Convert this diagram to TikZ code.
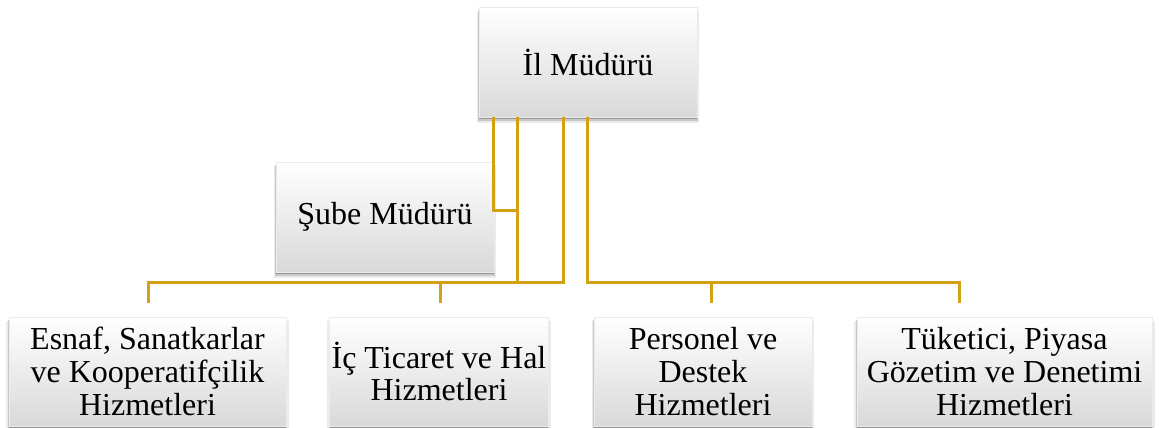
\documentclass[tikz,border=0pt]{standalone}
\usepackage{fontspec}
\setmainfont{Liberation Serif}
\usetikzlibrary{shadows}
\definecolor{gold}{RGB}{212,161,20}
\begin{document}
\begin{tikzpicture}[x=1pt,y=-1pt,
  card/.style={rectangle, inner sep=2pt, align=center,
    font=\fontsize{32}{32.8}\selectfont,
    top color=white, middle color=white, bottom color=black!15,
    draw=black!8, line width=0.4pt,
    general shadow={fill=black, opacity=0.08, shadow yshift=-5pt, shadow scale=1.02},
    general shadow={fill=black, opacity=0.15, shadow yshift=-3.5pt, shadow scale=1.01},
    general shadow={fill=black, opacity=0.25, shadow yshift=-2pt}},
  conn/.style={draw=gold, line width=3pt}]
\useasboundingbox (0,0) rectangle (1160,428);

\node[card, minimum width=218, minimum height=110] (top) at (588,62) {İl Müdürü};
\node[card, minimum width=218, minimum height=110] (sube) at (385,217) {Şube Müdürü};
\node[card, minimum width=277, minimum height=109] (b1) at (147.5,371.5) {Esnaf, Sanatkarlar\\ve Kooperatifçilik\\Hizmetleri};
\node[card, minimum width=218, minimum height=109] (b2) at (439,371.5) {İç Ticaret ve Hal\\Hizmetleri};
\node[card, minimum width=218, minimum height=109] (b3) at (703,371.5) {Personel ve\\Destek\\Hizmetleri};
\node[card, minimum width=295, minimum height=109] (b4) at (1004.5,371.5) {Tüketici, Piyasa\\Gözetim ve Denetimi\\Hizmetleri};

\coordinate (d1) at (148,303);
\coordinate (d2) at (440,303);
\coordinate (d3) at (711,303);
\coordinate (d4) at (959,303);
\coordinate (sj) at (517,210);

\draw[conn] ([xshift=-95pt]top.south) |- (sj);
\draw[conn] ([xshift=-71pt]top.south) -- ++(0,165) -| (d1);
\draw[conn] ([xshift=-25pt]top.south) -- ++(0,165) -| (d2);
\draw[conn] ([xshift=-1pt]top.south) -- ++(0,165) -| (d3);
\draw[conn] ([xshift=-1pt]top.south) -- ++(0,165) -| (d4);
\end{tikzpicture}
\end{document}
